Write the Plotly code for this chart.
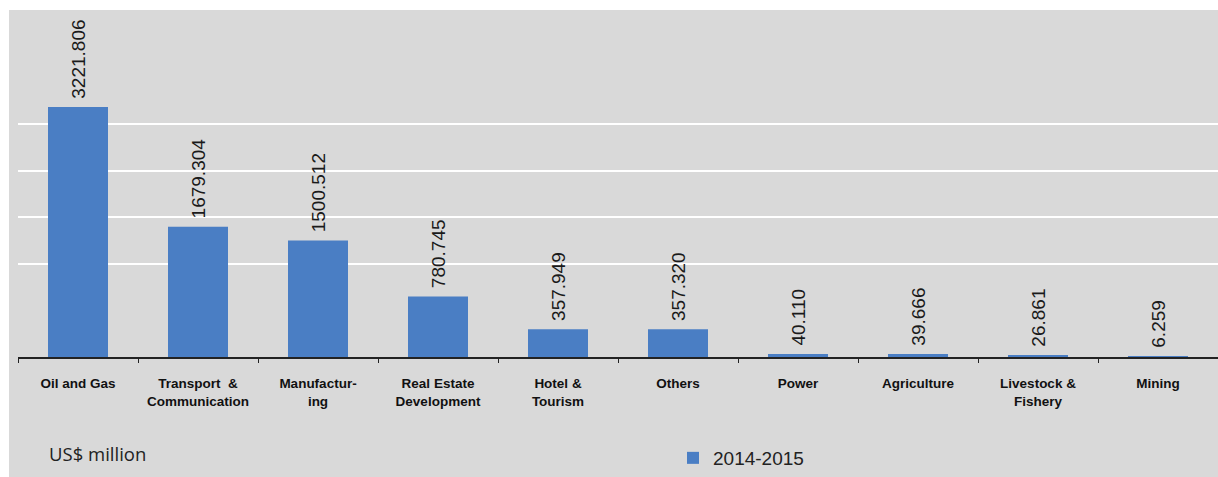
import plotly.graph_objects as go

categories = ["Oil and Gas", "Transport  &<br>Communication", "Manufactur-<br>ing",
              "Real Estate<br>Development", "Hotel &<br>Tourism", "Others", "Power",
              "Agriculture", "Livestock &<br>Fishery", "Mining"]
values_2014_2015 = [3221.806, 1679.304, 1500.512, 780.745, 357.949, 357.320,
                    40.110, 39.666, 26.861, 6.259]
series_name = "2014-2015"
unit_label = "US$ million"
grid_levels = [1200, 1800, 2400, 3000]

W, H = 1218, 477
ML, MR, MT, MB = 18, 0, 10, 120
PW, PH = W - ML - MR, H - MT - MB

fig = go.Figure()
fig.add_trace(go.Bar(
    x=categories, y=values_2014_2015, name=series_name,
    marker=dict(color="#4a7ec4", line=dict(width=0)),
    texttemplate="\u00a0%{y:.3f}", textposition="outside", textangle=-90,
    constraintext="none",
    textfont=dict(family="Liberation Sans, Arial, sans-serif", size=19, color="#1a1a1a"),
    cliponaxis=False, showlegend=True,
))

fig.update_layout(
    width=W, height=H,
    margin=dict(l=ML, r=MR, t=MT, b=MB, autoexpand=False),
    paper_bgcolor="#d9d9d9", plot_bgcolor="rgba(0,0,0,0)",
    bargap=0.5,
    showlegend=True,
    legend=dict(orientation="h", x=(673 - ML) / PW, xanchor="left",
                y=-(458 - (MT + PH)) / PH, yanchor="middle",
                bgcolor="rgba(0,0,0,0)",
                font=dict(family="Liberation Sans, Arial, sans-serif", size=19, color="#222222")),
    xaxis=dict(showline=True, linecolor="#222222", linewidth=1.5,
               ticks="outside", tickson="boundaries", ticklen=4, tickcolor="#222222",
               ticklabelstandoff=13, tickangle=0, automargin=False,
               tickfont=dict(family="Liberation Sans, Arial, sans-serif",
                             size=13.5, color="#111111", weight="bold"),
               showgrid=False, zeroline=False, fixedrange=True),
    yaxis=dict(range=[0, PH / 0.0776], tickmode="array", tickvals=grid_levels,
               showgrid=True, gridcolor="#ffffff",
               gridwidth=1.5, showticklabels=False, zeroline=False, showline=False,
               fixedrange=True, automargin=False),
    shapes=[
        dict(type="rect", xref="paper", yref="paper", x0=-ML / PW - 0.01, x1=1.01,
             y0=1, y1=1 + (MT + 2) / PH, fillcolor="#ffffff", line=dict(width=0), layer="below"),
        dict(type="rect", xref="paper", yref="paper", x0=-ML / PW - 0.01, x1=(9 - ML) / PW,
             y0=-(MB + 2) / PH, y1=1 + (MT + 2) / PH, fillcolor="#ffffff", line=dict(width=0),
             layer="below"),
    ],
    annotations=[dict(text=unit_label, xref="paper", yref="paper",
                      x=(47 - ML) / PW, xanchor="left",
                      y=-(453 - (MT + PH)) / PH, yanchor="middle", showarrow=False,
                      font=dict(family="Open Sans, Liberation Sans, Arial", size=18.5, color="#222222"))],
)

fig.write_html("out.html", config={"displayModeBar": False},
               post_script="document.body.style.margin='0';document.body.style.padding='0';")
